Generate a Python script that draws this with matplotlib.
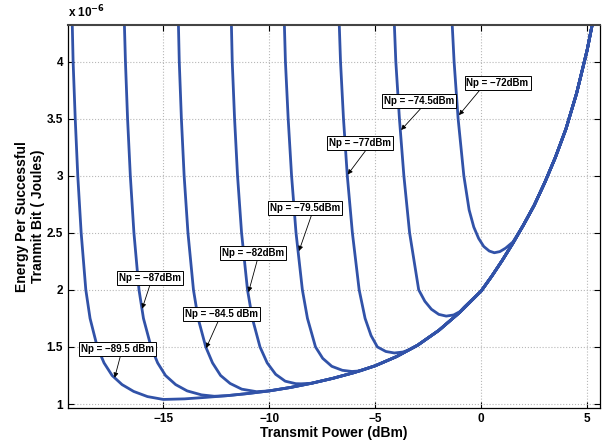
import matplotlib.pyplot as plt

plt.rcParams['font.family'] = ['Liberation Sans', 'DejaVu Sans']
plt.rcParams['font.weight'] = 'bold'
plt.rcParams['axes.unicode_minus'] = True

LINE = "#3152a8"

# common lower envelope (energy in units of 1e-6 J)
env_x = [-15.0, -14.0, -13.0, -12.0, -11.0, -10.0, -9.0, -8.0, -7.0, -6.0,
         -5.0, -4.0, -3.0, -2.0, -1.0, 0.0, 0.5, 1.0, 1.5, 2.0, 2.5, 3.0,
         3.5, 4.0, 4.5, 5.0, 5.3]
env_y = [1.035, 1.045, 1.058, 1.073, 1.092, 1.115, 1.145, 1.182, 1.225, 1.275,
         1.335, 1.415, 1.515, 1.645, 1.805, 1.99, 2.12, 2.26, 2.41, 2.57, 2.74,
         2.94, 3.16, 3.41, 3.72, 4.10, 4.38]

# left branches of each curve, down to where they join the envelope
x_895 = [-19.30, -19.26, -19.16, -19.04, -18.88, -18.66, -18.46, -18.12,
         -17.80, -17.42, -16.95, -16.40, -15.75, -15.0]
y_895 = [4.33, 4.00, 3.50, 3.00, 2.50, 2.00, 1.75, 1.50,
         1.36, 1.25, 1.17, 1.11, 1.065, 1.04]

x_87 = [-16.84, -16.79, -16.69, -16.56, -16.39, -16.15, -15.94, -15.58,
        -15.27, -14.90, -14.42, -13.88, -13.2, -12.6]
y_87 = [4.33, 4.00, 3.50, 3.00, 2.50, 2.00, 1.75, 1.50,
        1.36, 1.25, 1.17, 1.115, 1.08, 1.068]

x_845 = [-14.29, -14.25, -14.15, -14.02, -13.84, -13.58, -13.36, -13.00,
         -12.68, -12.30, -11.85, -11.30, -10.6]
y_845 = [4.33, 4.00, 3.50, 3.00, 2.50, 2.00, 1.75, 1.50,
         1.36, 1.25, 1.18, 1.13, 1.108]

x_82 = [-11.79, -11.75, -11.64, -11.50, -11.31, -11.03, -10.80, -10.44,
        -10.10, -9.70, -9.25, -8.75, -8.5]
y_82 = [4.33, 4.00, 3.50, 3.00, 2.50, 2.00, 1.75, 1.50,
        1.36, 1.26, 1.20, 1.178, 1.177]

x_795 = [-9.29, -9.24, -9.11, -8.95, -8.74, -8.44, -8.20, -7.82,
         -7.48, -7.05, -6.55, -6.1, -5.7]
y_795 = [4.33, 4.00, 3.50, 3.00, 2.50, 2.00, 1.75, 1.50,
         1.40, 1.33, 1.295, 1.285, 1.29]

x_77 = [-6.70, -6.64, -6.50, -6.32, -6.08, -5.76, -5.48, -5.20,
        -4.90, -4.50, -4.10, -3.70, -3.40, -3.15]
y_77 = [4.33, 4.00, 3.50, 3.00, 2.50, 2.00, 1.75, 1.60,
        1.50, 1.46, 1.447, 1.455, 1.475, 1.50]

x_745 = [-4.10, -4.03, -3.86, -3.65, -3.38, -2.95, -2.66, -2.35,
         -2.00, -1.65, -1.30, -1.00, -0.80]
y_745 = [4.33, 4.00, 3.50, 3.00, 2.50, 2.00, 1.90, 1.83,
         1.785, 1.77, 1.78, 1.81, 1.85]

x_72 = [-1.37, -1.28, -1.09, -0.82, -0.57, -0.35, -0.12, 0.12,
        0.38, 0.62, 0.88, 1.15, 1.5]
y_72 = [4.33, 4.00, 3.50, 3.00, 2.70, 2.55, 2.45, 2.38,
        2.34, 2.325, 2.335, 2.365, 2.42]

branches = [(x_895, y_895), (x_87, y_87), (x_845, y_845), (x_82, y_82),
            (x_795, y_795), (x_77, y_77), (x_745, y_745), (x_72, y_72)]

labels = ["Np = \u221289.5 dBm", "Np = \u221287dBm", "Np = \u221284.5 dBm",
          "Np = \u221282dBm", "Np = \u221279.5dBm", "Np = \u221277dBm",
          "Np = \u221274.5dBm", "Np = \u221272dBm"]
label_xy = [(-17.17, 1.485), (-15.61, 2.10), (-12.26, 1.79), (-10.75, 2.32),
            (-8.30, 2.72), (-5.70, 3.29), (-2.94, 3.655), (0.77, 3.81)]
tip_xy = [(-17.3, 1.23), (-16.0, 1.835), (-12.98, 1.49), (-10.98, 1.98),
          (-8.60, 2.34), (-6.30, 3.01), (-3.78, 3.40), (-1.05, 3.53)]
arrow_rel = [0.55, 0.5, 0.47, 0.57, 0.6, 0.62, 0.56, 0.24]

fig = plt.figure(figsize=(6.03, 4.43), dpi=100)
ax = fig.add_axes([0.1128, 0.079, 0.882, 0.8646])

for bx, by in branches:
    xs = list(bx) + [e for e in env_x if e > bx[-1]]
    ys = list(by) + [v for e, v in zip(env_x, env_y) if e > bx[-1]]
    ax.plot(xs, ys, color=LINE, lw=2.0, solid_joinstyle="round")

for txt, (lx, ly), (tx, ty), rx in zip(labels, label_xy, tip_xy, arrow_rel):
    ax.annotate(txt, xy=(tx, ty), xytext=(lx, ly), fontsize=7, fontweight="bold",
                ha="center", va="center",
                bbox=dict(boxstyle="square,pad=0.2", fc="white", ec="black", lw=0.7),
                arrowprops=dict(arrowstyle="-|>", color="black", lw=0.6,
                                mutation_scale=7, relpos=(rx, 0.0),
                                shrinkA=0, shrinkB=0))

ax.set_xlim(-19.5, 5.6)
ax.set_ylim(0.965, 4.32)
ax.set_xticks([-15, -10, -5, 0, 5])
ax.set_yticks([1, 1.5, 2, 2.5, 3, 3.5, 4])
ax.set_yticklabels(["1", "1.5", "2", "2.5", "3", "3.5", "4"])
ax.grid(True, ls=":", color="#b8b8b8", lw=0.8)
ax.tick_params(direction="in", top=True, right=True, labelsize=8.5, length=4, width=0.8)
for lab in ax.get_xticklabels() + ax.get_yticklabels():
    lab.set_fontweight("bold")
for sp in ax.spines.values():
    sp.set_linewidth(0.9)
ax.spines["top"].set_color("#444444")
ax.spines["top"].set_linewidth(1.5)

ax.text(0.0, 1.012, r"x 10$^{\mathbf{-6}}$", transform=ax.transAxes,
        fontsize=8.5, fontweight="bold", ha="left", va="bottom")

ax.set_xlabel("Transmit Power (dBm)", fontsize=10, fontweight="bold", labelpad=1)
fig.text(0.05, 0.512, "Energy Per Successful\nTranmit Bit ( Joules)",
         rotation=90, ha="center", va="center", fontsize=10, fontweight="bold",
         multialignment="center")

fig.savefig("out.png", dpi=100)
